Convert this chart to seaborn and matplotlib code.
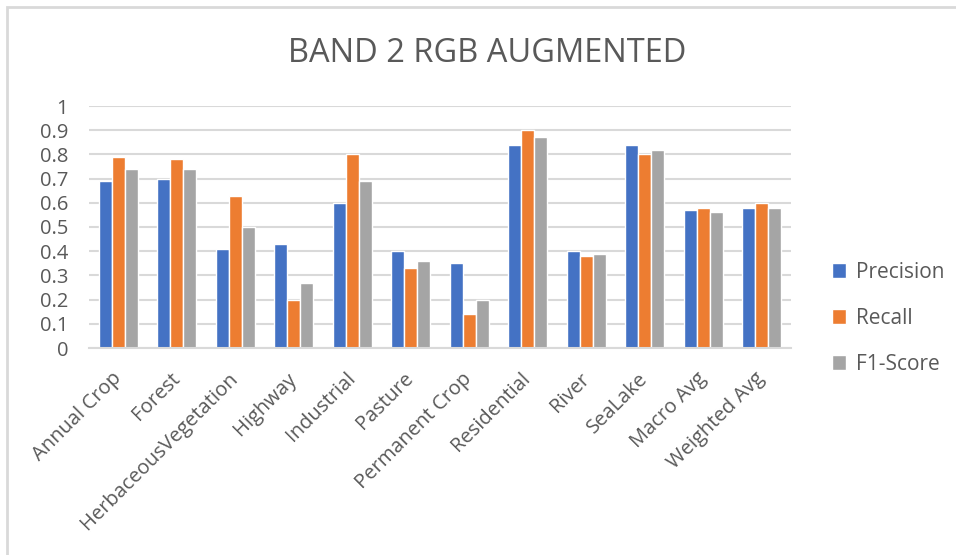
import matplotlib
matplotlib.use("Agg")
import matplotlib.pyplot as plt
import seaborn as sns
import pandas as pd
from matplotlib.patches import Rectangle

categories = ["Annual Crop", "Forest", "HerbaceousVegetation", "Highway", "Industrial",
              "Pasture", "Permanent Crop", "Residential", "River", "SeaLake",
              "Macro Avg", "Weighted Avg"]
precision = [0.69, 0.70, 0.41, 0.43, 0.60, 0.40, 0.35, 0.84, 0.40, 0.84, 0.57, 0.58]
recall    = [0.79, 0.78, 0.63, 0.20, 0.80, 0.33, 0.14, 0.90, 0.38, 0.80, 0.58, 0.60]
f1_score  = [0.74, 0.74, 0.50, 0.27, 0.69, 0.36, 0.20, 0.87, 0.39, 0.82, 0.56, 0.58]
metrics = ["Precision", "Recall", "F1-Score"]
yticks = [0, 0.1, 0.2, 0.3, 0.4, 0.5, 0.6, 0.7, 0.8, 0.9, 1]
ytick_labels = ["0", "0.1", "0.2", "0.3", "0.4", "0.5", "0.6", "0.7", "0.8", "0.9", "1"]

df = pd.DataFrame({"Class": categories * 3,
                   "Metric": [m for m in metrics for _ in categories],
                   "Score": precision + recall + f1_score})

sns.set_style("white")
plt.rcParams["font.family"] = ["Open Sans", "DejaVu Sans"]
text_color = "#595959"
palette = ["#4472C4", "#ED7D31", "#A5A5A5"]

W, H = 956, 555
fig = plt.figure(figsize=(W / 100, H / 100), dpi=100)
ax = fig.add_axes([89 / W, 1 - 348 / H, (791 - 89) / W, (348 - 106) / H])

sns.barplot(data=df, x="Class", y="Score", hue="Metric", palette=palette,
            width=0.667, gap=0, ax=ax, saturation=1, legend=True)

ax.set_ylim(0, 1)
ax.set_xlim(-0.5, len(categories) - 0.5)
ax.set_yticks(yticks)
ax.set_yticklabels(ytick_labels)
ax.yaxis.grid(True, color="#D9D9D9", linewidth=1.5)
ax.set_axisbelow(True)
for s in ["top", "right", "left"]:
    ax.spines[s].set_visible(False)
ax.spines["bottom"].set_color("#D9D9D9")
ax.spines["bottom"].set_linewidth(1.5)
ax.set_xlabel("")
ax.set_ylabel("")
ax.tick_params(axis="y", length=0, pad=15, labelsize=14.5, labelcolor=text_color)
ax.tick_params(axis="x", length=0, pad=20, labelsize=14.5, labelcolor=text_color)
for lbl in ax.get_xticklabels():
    lbl.set_rotation(45)
    lbl.set_ha("right")
    lbl.set_va("center")
    lbl.set_rotation_mode("anchor")

handles, labels = ax.get_legend_handles_labels()
ax.legend(handles, labels, loc="center left", bbox_to_anchor=(813 / W, 1 - 318 / H),
          bbox_transform=fig.transFigure, frameon=False, fontsize=15,
          labelcolor=text_color, handlelength=0.7, handleheight=0.7,
          handletextpad=0.45, labelspacing=1.2)

fig.text(487 / W, 1 - 53 / H, "BAND 2 RGB AUGMENTED", ha="center", va="center",
         fontsize=23.5, color=text_color)

# chart frame
fig.patches.append(Rectangle((7 / W, -0.1), 1.2, 1 - 7 / H + 0.1,
                             transform=fig.transFigure, fill=False,
                             edgecolor="#D9D9D9", linewidth=2))

fig.savefig("out.png", dpi=100)
